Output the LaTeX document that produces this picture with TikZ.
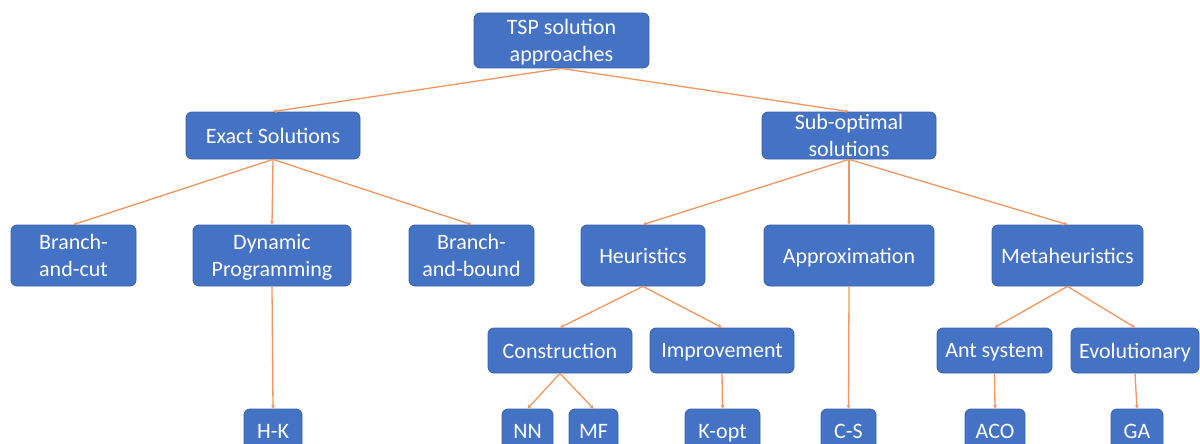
\documentclass[tikz,border=0pt]{standalone}
\usepackage{fontspec}
\setmainfont{Carlito}
\usepackage{tikz}
\usetikzlibrary{arrows.meta}
\usepackage{xcolor}
\definecolor{boxblue}{RGB}{68,114,196}
\definecolor{linkorange}{RGB}{240,150,95}

\tikzset{
    box/.style={rectangle, rounded corners=6pt, fill=boxblue, draw=boxblue!85!black,
        line width=0.8pt, text=white, align=center, inner sep=0pt,
        text depth=0pt, font=\fontsize{22}{27}\selectfont},
    link/.style={draw=linkorange, line width=1.3pt,
        -{Stealth[length=4pt,width=4pt]}}
}

\begin{document}
\begin{tikzpicture}[x=1pt, y=-1pt]
    \useasboundingbox (0,0) rectangle (1200,444);

    % root
    \node[box, minimum width=175, minimum height=55] (tsp) at (561.5,40.5) {TSP solution\\approaches};

    % second level
    \node[box, minimum width=174, minimum height=47] (exact) at (273,135.5) {Exact Solutions};
    \node[box, minimum width=174, minimum height=47] (subopt) at (849,135.5) {Sub-optimal\\solutions};

    % exact methods
    \node[box, minimum width=125, minimum height=61] (bac) at (73.5,255.5) {Branch-\\and-cut};
    \node[box, minimum width=158, minimum height=61] (dp) at (272,255.5) {Dynamic\\Programming};
    \node[box, minimum width=125, minimum height=61] (bab) at (471.5,255.5) {Branch-\\and-bound};

    % sub-optimal methods
    \node[box, minimum width=124, minimum height=61] (heur) at (643,255.5) {Heuristics};
    \node[box, minimum width=170, minimum height=61] (approx) at (849,255.5) {Approximation};
    \node[box, minimum width=151, minimum height=61] (meta) at (1067.5,255.5) {Metaheuristics};

    % fourth level
    \node[box, minimum width=144, minimum height=45] (constr) at (560,350.5) {Construction};
    \node[box, minimum width=144, minimum height=45] (improv) at (722,350.5) {Improvement};
    \node[box, minimum width=115, minimum height=45] (ant) at (994.5,350.5) {Ant system};
    \node[box, minimum width=128, minimum height=45] (evol) at (1135,350.5) {Evolutionary};

    % leaves
    \node[box, minimum width=58, minimum height=44] (hk) at (273,431) {H-K};
    \node[box, minimum width=51, minimum height=44] (nn) at (527.5,431) {NN};
    \node[box, minimum width=49, minimum height=44] (mf) at (593.5,431) {MF};
    \node[box, minimum width=75, minimum height=44] (kopt) at (722.5,431) {K-opt};
    \node[box, minimum width=55, minimum height=44] (cs) at (848.5,431) {C-S};
    \node[box, minimum width=60, minimum height=44] (aco) at (995,431) {ACO};
    \node[box, minimum width=52, minimum height=44] (ga) at (1137,431) {GA};

    % connectors
    \foreach \from/\to in {tsp/exact, tsp/subopt,
        exact/bac, exact/dp, exact/bab,
        subopt/heur, subopt/approx, subopt/meta,
        heur/constr, heur/improv, meta/ant, meta/evol,
        dp/hk, constr/nn, constr/mf, improv/kopt,
        approx/cs, ant/aco, evol/ga}
        \draw[link] (\from.south) -- (\to.north);
\end{tikzpicture}
\end{document}
